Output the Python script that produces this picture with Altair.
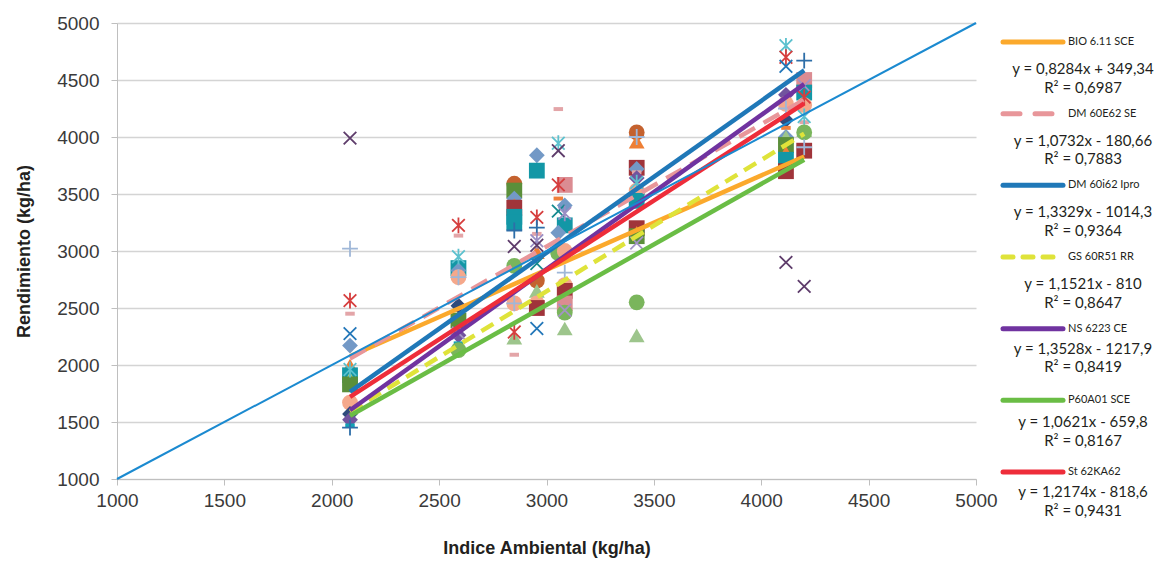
import altair as alt
import pandas as pd

# ---------------- data ----------------
pts_x = [2085, 2085, 2085, 2085, 2085, 2085, 2085, 2085, 2085, 2085, 2085, 2085, 2085, 2085, 2085, 2085,
         2590, 2590, 2590, 2590, 2590, 2590, 2590, 2590, 2590, 2590, 2590, 2590, 2590,
         2850, 2850, 2850, 2850, 2850, 2850, 2850, 2850, 2850, 2850, 2850, 2850, 2850, 2850, 2850,
         2955, 2955, 2955, 2955, 2955, 2955, 2955, 2955, 2955, 2955, 2955, 2955, 2955, 2955,
         3055, 3055, 3055, 3055, 3085, 3055, 3085, 3055, 3085, 3085, 3055, 3055, 3085, 3085, 3085, 3085, 3085, 3085, 3085, 3085,
         3420, 3420, 3420, 3420, 3420, 3420, 3420, 3420, 3420, 3420, 3420, 3420, 3420, 3420, 3420, 3420,
         4115, 4115, 4115, 4115, 4115, 4115, 4115, 4115, 4115, 4115, 4115, 4115, 4115, 4115, 4115,
         4200, 4200, 4200, 4200, 4200, 4200, 4200, 4200, 4200, 4200, 4200, 4200, 4200]
pts_y = [3990, 3020, 2565, 2450, 2275, 2170, 1995, 1960, 1910, 1880, 1830, 1670, 1570, 1520, 1470, 1450,
         3225, 3135, 2950, 2850, 2830, 2770, 2770, 2520, 2390, 2280, 2260, 2190, 2130,
         3590, 3530, 3460, 3400, 3380, 3300, 3250, 3180, 3040, 2870, 2540, 2540, 2290, 2240, 2090,
         3840, 3705, 3295, 3205, 3150, 3090, 3050, 2990, 2890, 2740, 2650, 2540, 2500, 2320,
         4245, 3945, 3880, 3580, 3580, 3460, 3400, 3350, 3330, 3225, 3160, 2980, 3000, 2810, 2700, 2650, 2540, 2480, 2460, 2320,
         4040, 3960, 4000, 3730, 3720, 3690, 3640, 3600, 3530, 3440, 3200, 3160, 3130, 3070, 2550, 2260,
         4800, 4700, 4620, 4370, 4290, 4250, 4150, 4080, 4000, 4000, 3930, 3860, 3800, 3700, 2900,
         4670, 4500, 4450, 4390, 4350, 4280, 4180, 4130, 4060, 4040, 3910, 3880, 2690]
pts_kind = ["x_dpurple", "plus_lblue", "ast_red", "dash_pink", "x_blue", "dia_steel", "tri_orange", "ast_cyan",
            "sq_teal", "tri_lgreen", "sq_dgreen", "circ_salmon", "dia_dblue", "dia_purple", "dash_teal", "plus_blue",
            "ast_red", "dash_pink", "ast_cyan", "sq_teal", "dia_steel", "circ_salmon", "plus_lblue", "dia_dblue",
            "sq_dgreen", "x_lav", "dia_purple", "dash_teal", "circ_green",
            "circ_brown", "sq_dgreen", "dia_steel", "tri_orange", "sq_dred", "sq_teal", "sq_teal", "plus_blue",
            "x_dpurple", "circ_green", "circ_salmon", "plus_lblue", "ast_red", "tri_lgreen", "dash_pink",
            "dia_steel", "sq_teal", "ast_red", "plus_blue", "dash_pink", "ast_lav", "x_dpurple", "tri_orange",
            "x_teal", "circ_brown", "tri_lgreen", "circ_salmon", "sq_dred", "x_blue",
            "dash_pink", "ast_cyan", "x_dpurple", "ast_red", "sq_pink", "dash_orange", "dia_steel", "x_teal",
            "ast_lav", "sq_teal", "dia_steel", "circ_green", "circ_salmon", "plus_lblue", "circ_salmon", "sq_dred",
            "sq_pink", "x_lav", "circ_green", "tri_lgreen",
            "circ_brown", "tri_orange", "plus_lblue", "sq_dred", "dia_steel", "dash_pink", "dia_purple", "ast_cyan",
            "circ_salmon", "sq_teal", "sq_dred", "tri_orange", "sq_dgreen", "x_lav", "circ_green", "tri_lgreen",
            "ast_cyan", "ast_red", "x_blue", "dia_purple", "circ_salmon", "plus_lblue", "dia_dblue", "dash_orange",
            "dia_steel", "tri_lgreen", "sq_dgreen", "tri_orange", "sq_teal", "sq_dred", "x_dpurple",
            "plus_blue", "sq_pink", "x_lav", "sq_teal", "ast_red", "circ_salmon", "ast_cyan", "dash_pink",
            "tri_lgreen", "circ_green", "plus_lblue", "sq_dred", "x_dpurple"]

kind_names = ["circ_brown", "tri_orange", "sq_teal", "dia_steel", "circ_salmon", "circ_green", "tri_lgreen",
              "sq_dred", "sq_pink", "dia_dblue", "dia_purple", "sq_dgreen", "dash_pink", "dash_teal",
              "dash_orange", "x_dpurple", "x_blue", "x_lav", "x_teal", "ast_red", "ast_cyan", "ast_lav",
              "plus_lblue", "plus_blue"]
kind_colors = ["#C4622F", "#EE7F35", "#1397A6", "#7399C6", "#F5A88B", "#7AB55C", "#9DC58C",
               "#A0343A", "#DB8C92", "#2F4B7C", "#72539E", "#5B8F3A", "#E3A5A8", "#11A1B5",
               "#F07F3A", "#5E3C6B", "#2377B9", "#A393C6", "#168A8F", "#D63E3E", "#5CC1CE", "#9B8EC4",
               "#9FB7D8", "#2E6EA8"]

series_names = ["BIO 6.11 SCE", "DM 60E62 SE", "DM 60i62 Ipro", "GS 60R51 RR", "NS 6223 CE", "P60A01 SCE", "St 62KA62"]
series_slope = [0.8284, 1.0732, 1.3329, 1.1521, 1.3528, 1.0621, 1.2174]
series_icpt = [349.34, -180.66, -1014.3, -810.0, -1217.9, -659.8, -818.6]
series_eq = ["y = 0,8284x + 349,34", "y = 1,0732x - 180,66", "y = 1,3329x - 1014,3", "y = 1,1521x - 810",
             "y = 1,3528x - 1217,9", "y = 1,0621x - 659,8", "y = 1,2174x - 818,6"]
series_r2 = ["R² = 0,6987", "R² = 0,7883", "R² = 0,9364", "R² = 0,8647", "R² = 0,8419", "R² = 0,8167", "R² = 0,9431"]
series_colors = ["#FBA92C", "#E8969A", "#1F78B8", "#DFE33A", "#7033A0", "#6ABD45", "#EE2D3A"]
trend_x_range = [2085, 4200]

diag_x = [1000, 5000]
diag_y = [1000, 5000]
axis_ticks = [1000, 1500, 2000, 2500, 3000, 3500, 4000, 4500, 5000]

# ---------------- styles ----------------
W, H = 859, 456
X_PATH = "M-0.8,-0.8L0.8,0.8M-0.8,0.8L0.8,-0.8"
AST_PATH = "M-0.8,-0.8L0.8,0.8M-0.8,0.8L0.8,-0.8M0,-1L0,1"
PLUS_PATH = "M-1,0L1,0M0,-1L0,1"
DASH_PATH = "M-0.6,-0.25L0.6,-0.25L0.6,0.25L-0.6,0.25Z"


def shape_of(k):
    if k.startswith("circ"):
        return "circle"
    if k.startswith("tri"):
        return "triangle-up"
    if k.startswith("sq"):
        return "square"
    if k.startswith("dia"):
        return "diamond"
    if k.startswith("dash"):
        return DASH_PATH
    if k.startswith("x_"):
        return X_PATH
    if k.startswith("ast"):
        return AST_PATH
    return PLUS_PATH


kind_shapes = [shape_of(k) for k in kind_names]
stroked_kinds = [k for k in kind_names if k.startswith(("x_", "ast", "plus"))]

pts = pd.DataFrame({"x": pts_x, "y": pts_y, "kind": pts_kind})
pts["stroked"] = pts["kind"].isin(stroked_kinds)

xs = alt.Scale(domain=[1000, 5000], nice=False, zero=False)
ys = alt.Scale(domain=[1000, 5000], nice=False, zero=False)
color_sc = alt.Scale(domain=kind_names, range=kind_colors)
shape_sc = alt.Scale(domain=kind_names, range=kind_shapes)

xenc = alt.X("x:Q", scale=xs, title="Indice Ambiental (kg/ha)",
             axis=alt.Axis(values=axis_ticks, grid=False, domainColor="#bfbfbf", tickColor="#bfbfbf",
                           tickSize=6, labelFontSize=19, labelColor="#3a3a3a", labelFont="Liberation Sans",
                           labelPadding=6, labelFlush=False, labelOverlap=False,
                           titleFontSize=18, titleFont="Liberation Sans", titleFontWeight="bold",
                           titleColor="#231f20", titlePadding=29, format="d"))
yenc = alt.Y("y:Q", scale=ys, title="Rendimiento (kg/ha)",
             axis=alt.Axis(values=axis_ticks, grid=True, gridColor="#d4d4d4", gridWidth=1.3,
                           domainColor="#bfbfbf", tickColor="#bfbfbf", tickSize=6, labelFontSize=19,
                           labelColor="#3a3a3a", labelFont="Liberation Sans", labelPadding=12,
                           labelFlush=False, labelOverlap=False,
                           titleFontSize=18, titleFont="Liberation Sans", titleFontWeight="bold",
                           titleColor="#231f20", titlePadding=23, format="d"))

filled = alt.Chart(pts).transform_filter("!datum.stroked").mark_point(
    filled=True, size=250, opacity=1).encode(
    x=xenc, y=yenc,
    color=alt.Color("kind:N", scale=color_sc, legend=None),
    shape=alt.Shape("kind:N", scale=shape_sc, legend=None))

stroked = alt.Chart(pts).transform_filter("datum.stroked").mark_point(
    filled=False, size=250, opacity=1, strokeWidth=1.8).encode(
    x="x:Q", y="y:Q",
    color=alt.Color("kind:N", scale=color_sc, legend=None),
    shape=alt.Shape("kind:N", scale=shape_sc, legend=None))

dashes = {"DM 60E62 SE": [18, 10], "GS 60R51 RR": [14, 8]}
leg_dashes = {"DM 60E62 SE": [17, 15], "GS 60R51 RR": [10, 10]}

trend_layers = []
legend_layers = []
eq_off = [27, 27, 27, 27, 20, 22, 20]
for i, name in enumerate(series_names):
    tdf = pd.DataFrame({"x": trend_x_range,
                        "y": [series_slope[i] * v + series_icpt[i] for v in trend_x_range]})
    kw = {}
    if name in dashes:
        kw["strokeDash"] = dashes[name]
    trend_layers.append(alt.Chart(tdf).mark_line(color=series_colors[i], strokeWidth=4.5, **kw)
                        .encode(x="x:Q", y="y:Q"))
    # legend entry (pixel positions relative to the plot area)
    ly = 19 + i * 71.67
    ldf = pd.DataFrame({"name": [name], "eq": [series_eq[i]], "r2": [series_r2[i]],
                        "lx1": [886], "lx2": [946], "ly": [ly], "lt": [951],
                        "ex": [966], "ey": [ly + eq_off[i]], "ry": [ly + eq_off[i] + 18.5]})
    lkw = {}
    if name in leg_dashes:
        lkw["strokeDash"] = leg_dashes[name]
    legend_layers.append(alt.Chart(ldf).mark_rule(color=series_colors[i], strokeWidth=5, strokeCap="round", **lkw)
                         .encode(x=alt.X("lx1:Q", scale=None), x2="lx2:Q", y=alt.Y("ly:Q", scale=None)))
    legend_layers.append(alt.Chart(ldf).mark_text(align="left", baseline="middle", font="Lato", fontSize=11,
                                                  color="#231f20")
                         .encode(x=alt.X("lt:Q", scale=None), y=alt.Y("ly:Q", scale=None), text="name:N"))
    legend_layers.append(alt.Chart(ldf).mark_text(align="center", baseline="middle", font="Lato", fontSize=15,
                                                  color="#231f20")
                         .encode(x=alt.X("ex:Q", scale=None), y=alt.Y("ey:Q", scale=None), text="eq:N"))
    legend_layers.append(alt.Chart(ldf).mark_text(align="center", baseline="middle", font="Lato", fontSize=15,
                                                  color="#231f20")
                         .encode(x=alt.X("ex:Q", scale=None), y=alt.Y("ry:Q", scale=None), text="r2:N"))

diag = alt.Chart(pd.DataFrame({"x": diag_x, "y": diag_y})).mark_line(
    color="#1B8AD0", strokeWidth=2).encode(x="x:Q", y="y:Q")

chart = alt.layer(filled, stroked, *trend_layers, diag, *legend_layers).properties(
    width=W, height=H,
    autosize=alt.AutoSizeParams(type="none"),
    padding={"left": 117, "top": 23, "right": 1165 - 117 - W, "bottom": 561 - 23 - H},
    background="white",
).configure_view(stroke=None)

chart.save("out.html", embed_options={"renderer": "svg", "actions": False})
